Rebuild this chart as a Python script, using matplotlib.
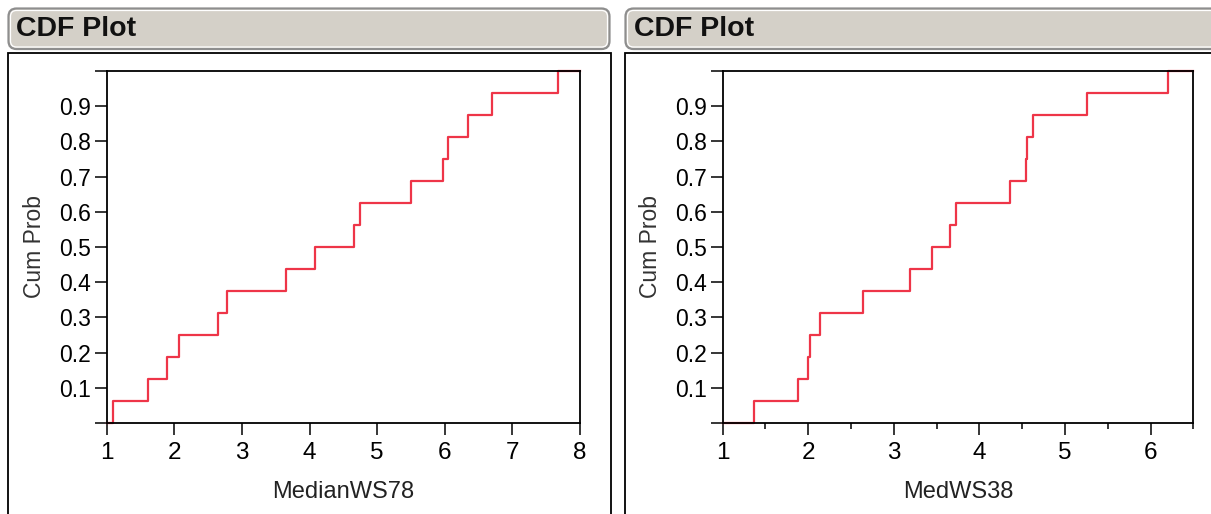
import matplotlib
matplotlib.use("Agg")
import matplotlib.pyplot as plt
from matplotlib.patches import FancyBboxPatch, Rectangle
from matplotlib.ticker import FixedLocator, FixedFormatter

plt.rcParams['font.family'] = ['Liberation Sans', 'DejaVu Sans']

# Observed values for each variable (16 observations each)
median_ws78 = [1.089, 1.616, 1.897, 2.069, 2.646, 2.784, 3.657, 4.086,
               4.658, 4.746, 5.500, 5.969, 6.043, 6.339, 6.698, 7.674]
med_ws38 = [1.363, 1.885, 2.000, 2.020, 2.138, 2.634, 3.184, 3.445,
            3.656, 3.722, 4.354, 4.540, 4.555, 4.623, 5.263, 6.199]

panel_title = "CDF Plot"
y_label = "Cum Prob"
x_label_left = "MedianWS78"
x_label_right = "MedWS38"

left_xlim = (1, 8)
right_xlim = (1, 6.5)
left_xticks = [1, 2, 3, 4, 5, 6, 7, 8]
right_xticks = [1, 2, 3, 4, 5, 6]
right_xminor = [1.5, 2.5, 3.5, 4.5, 5.5, 6.5]
y_ticks = [0.0, 0.1, 0.2, 0.3, 0.4, 0.5, 0.6, 0.7, 0.8, 0.9, 1.0]
y_ticklabels = ["", "0.1", "0.2", "0.3", "0.4", "0.5", "0.6", "0.7", "0.8", "0.9", ""]

RED = "#EE3548"
HEADER_FILL = "#D4D0C8"
HEADER_EDGE = "#8E8E8E"

W, H, DPI = 1211, 514, 100
fig = plt.figure(figsize=(W / DPI, H / DPI), dpi=DPI)
fig.patch.set_facecolor("white")

# Background layer in pixel units for the report-style frames
bg = fig.add_axes([0, 0, 1, 1], zorder=0)
bg.set_xlim(0, W)
bg.set_ylim(H, 0)
bg.axis("off")


def draw_frame(x0, x1, title_x):
    hdr = FancyBboxPatch((x0, 8.5), x1 - x0, 40.5,
                         boxstyle="round,pad=0,rounding_size=8",
                         facecolor=HEADER_FILL, edgecolor=HEADER_EDGE, lw=1.6)
    bg.add_patch(hdr)
    inner = FancyBboxPatch((x0 + 2, 10.5), x1 - x0 - 4, 36.5,
                           boxstyle="round,pad=0,rounding_size=6",
                           facecolor="none", edgecolor="white", lw=0.9)
    bg.add_patch(inner)
    bg.text(title_x, 36.5, panel_title, fontsize=20.5, fontweight="bold",
            color="#111111", va="baseline", ha="left")
    bg.add_patch(Rectangle((x0 - 0.5, 52.5), x1 - x0 + 1.5, 520,
                           facecolor="white", edgecolor="black", lw=1.3))


draw_frame(8.5, 609.5, 15.5)
draw_frame(625.5, 1240, 634)


def cdf_steps(values, lo, hi):
    xs = sorted(values)
    n = len(xs)
    x = [lo] + xs + [hi]
    y = [0.0] + [(i + 1) / n for i in range(n)] + [1.0]
    return x, y


def cdf_axes(px0, px1, values, xlim, xticks, xlabel, minor=None):
    ax = fig.add_axes([px0 / W, (H - 423) / H, (px1 - px0) / W, 352 / H], zorder=2)
    ax.set_facecolor("white")
    x, y = cdf_steps(values, *xlim)
    ax.step(x, y, where="post", color=RED, lw=1.6, clip_on=False, zorder=2)
    ax.set_xlim(*xlim)
    ax.set_ylim(0, 1)
    ax.xaxis.set_major_locator(FixedLocator(xticks))
    ax.xaxis.set_major_formatter(FixedFormatter([str(t) for t in xticks]))
    ax.yaxis.set_major_locator(FixedLocator(y_ticks))
    ax.yaxis.set_major_formatter(FixedFormatter(y_ticklabels))
    if minor is not None:
        ax.xaxis.set_minor_locator(FixedLocator(minor))
    for sp in ax.spines.values():
        sp.set_linewidth(1.3)
        sp.set_color("black")
    ax.tick_params(which="major", direction="out", length=8.4, width=1.1, color="black")
    ax.tick_params(which="minor", direction="out", length=4.3, width=1.1, color="black")
    ax.tick_params(axis="x", labelsize=17.5, pad=5.5)
    ax.tick_params(axis="y", labelsize=16.5, pad=3)
    ax.set_xlabel(xlabel, fontsize=17, color="#222222")
    ax.xaxis.set_label_coords(0.5, -0.165)
    ax.set_ylabel(y_label, fontsize=16.5, color="#333333")
    ax.yaxis.set_label_coords(-0.128, 0.5)
    return ax


cdf_axes(106.7, 580.0, median_ws78, left_xlim, left_xticks, x_label_left)
cdf_axes(722.7, 1193.3, med_ws38, right_xlim, right_xticks, x_label_right, right_xminor)

fig.savefig("out.png", dpi=DPI, facecolor="white")
